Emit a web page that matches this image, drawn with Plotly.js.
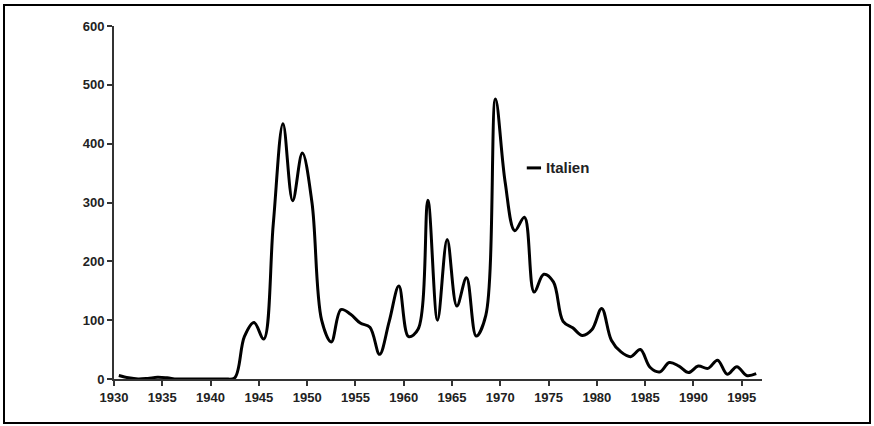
<!DOCTYPE html>
<html>
<head>
<meta charset="utf-8">
<script src="https://cdn.plot.ly/plotly-3.0.1.min.js"></script>
<style>
  html, body { margin: 0; padding: 0; background: #fff; }
  #wrap { position: relative; width: 874px; height: 426px; }
  #chart { position: absolute; left: 0; top: 0; width: 874px; height: 426px; }
  #frame { position: absolute; left: 3px; top: 4px; width: 864px; height: 416px; border: 2px solid #000; pointer-events: none; }
</style>
</head>
<body>
<div id="wrap">
  <div id="chart"></div>
  <div id="frame"></div>
</div>
<script>
const years = [
  1930, 1931, 1932, 1933, 1934, 1935, 1936, 1937, 1938, 1939,
  1940, 1941, 1942, 1943, 1944, 1945, 1946, 1947, 1948, 1949,
  1950, 1951, 1952, 1953, 1954, 1955, 1956, 1957, 1958, 1959,
  1960, 1961, 1962, 1963, 1964, 1965, 1966, 1967, 1968, 1969,
  1970, 1971, 1972, 1973, 1974, 1975, 1976, 1977, 1978, 1979,
  1980, 1981, 1982, 1983, 1984, 1985, 1986, 1987, 1988, 1989,
  1990, 1991, 1992, 1993, 1994, 1995, 1996
];
const italien = [
  6, 2, 0, 1, 3, 2, 0, 0, 0, 0,
  0, 0, 2, 72, 96, 68, 265, 434, 303, 384,
  300, 100, 63, 118, 110, 95, 88, 42, 98, 158,
  72, 85, 304, 100, 237, 124, 172, 73, 108, 476,
  335, 252, 275, 148, 178, 165, 98, 87, 74, 84,
  120, 66, 46, 38, 50, 20, 12, 28, 22, 11,
  22, 18, 32, 8, 21, 6, 9
];
const xTickVals = [1930, 1935, 1940, 1945, 1950, 1955, 1960, 1965, 1970, 1975, 1980, 1985, 1990, 1995];
const yTickVals = [0, 100, 200, 300, 400, 500, 600];
const seriesName = 'Italien';

// each year's value is plotted at mid-year, as in the original category axis
const xs = years.map(y => y + 0.5);

const fontFamily = 'Liberation Sans, Arial, sans-serif';
const tickFont = { family: fontFamily, size: 13, weight: 'bold', color: '#222' };

const trace = {
  x: xs,
  y: italien,
  type: 'scatter',
  mode: 'lines',
  name: seriesName,
  line: { color: '#000', width: 3, shape: 'spline', smoothing: 1 }
};

// legend key drawn in paper coordinates (short line + label, as in the original)
const legendKeyX = [0.637, 0.659];
const legendY = 0.598;

const layout = {
  width: 874,
  height: 426,
  margin: { l: 114, r: 112, t: 26, b: 47 },
  paper_bgcolor: '#fff',
  plot_bgcolor: '#fff',
  showlegend: false,
  shapes: [{
    type: 'line', xref: 'paper', yref: 'paper',
    x0: legendKeyX[0], x1: legendKeyX[1], y0: legendY, y1: legendY,
    line: { color: '#000', width: 3 }
  }],
  annotations: [{
    xref: 'paper', yref: 'paper', x: legendKeyX[1] + 0.004, y: legendY,
    xanchor: 'left', yanchor: 'middle', showarrow: false,
    text: seriesName,
    font: { family: fontFamily, size: 15, weight: 'bold', color: '#222' }
  }],
  xaxis: {
    range: [1930, 1997.1],
    tickmode: 'array',
    tickvals: xTickVals,
    ticktext: xTickVals.map(String),
    ticks: 'outside', ticklen: 5, tickwidth: 2, tickcolor: '#333',
    showline: true, linecolor: '#333', linewidth: 2,
    showgrid: false, zeroline: false,
    tickfont: tickFont
  },
  yaxis: {
    range: [0, 600],
    tickmode: 'array',
    tickvals: yTickVals,
    ticktext: yTickVals.map(String),
    ticks: 'outside', ticklen: 5, tickwidth: 2, tickcolor: '#333',
    showline: true, linecolor: '#333', linewidth: 2,
    showgrid: false, zeroline: false,
    tickfont: tickFont
  }
};

Plotly.newPlot('chart', [trace], layout, { displayModeBar: false, staticPlot: true });
</script>
</body>
</html>
